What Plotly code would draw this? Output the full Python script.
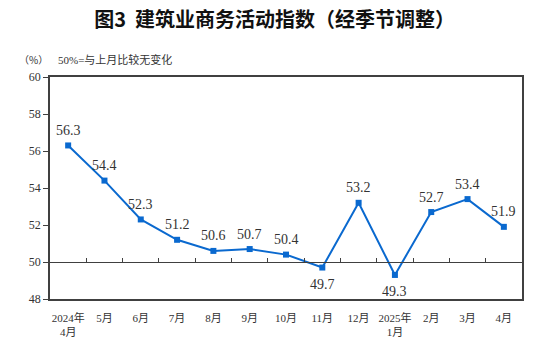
import plotly.graph_objects as go

categories = ["2024年<br>4月", "5月", "6月", "7月", "8月", "9月", "10月", "11月", "12月",
              "2025年<br>1月", "2月", "3月", "4月"]
values = [56.3, 54.4, 52.3, 51.2, 50.6, 50.7, 50.4, 49.7, 53.2, 49.3, 52.7, 53.4, 51.9]
label_side = ["top", "top", "top", "top", "top", "top", "top", "bottom", "top",
              "bottom", "top", "top", "top"]
y_ticks = [48, 50, 52, 54, 56, 58, 60]

title_text = "图3  建筑业商务活动指数（经季节调整）"
unit_text = "（%）"
note_text = "50%=与上月比较无变化"

SERIF = "Liberation Serif, Times New Roman, Noto Sans CJK SC"
CJK = "Noto Sans CJK SC"
LINE_BLUE = "#0a69cf"
TEXT = "#333333"
AXIS = "#404040"

fig = go.Figure()
fig.add_trace(go.Scatter(
    x=categories, y=values, mode="lines+markers",
    line=dict(color=LINE_BLUE, width=2),
    marker=dict(symbol="square", size=6, color=LINE_BLUE),
    hoverinfo="skip", showlegend=False,
))

# data labels
for c, v, s in zip(categories, values, label_side):
    fig.add_annotation(x=c, y=v, text=f"{v:.1f}", showarrow=False,
                       yshift=15 if s == "top" else -17,
                       font=dict(family=SERIF, size=14, color=TEXT))

# boundary ticks on the 50 reference line (second x-axis)
n = len(categories)
fig.add_trace(go.Scatter(x=[0], y=[None], xaxis="x2", yaxis="y",
                         showlegend=False, hoverinfo="skip"))

fig.update_layout(
    width=546, height=353,
    margin=dict(l=50, r=24, t=77, b=54),
    paper_bgcolor="white", plot_bgcolor="white",
    xaxis=dict(type="category", showgrid=False, zeroline=False,
               showline=True, mirror=True, linecolor=AXIS, linewidth=1.5,
               ticks="", tickfont=dict(family=SERIF, size=11, color=TEXT),
               ticklabelstandoff=8,
               range=[-0.5, n - 0.5]),
    xaxis2=dict(overlaying="x", anchor="free", position=(50 - 48) / (60 - 48),
                side="top", range=[-0.5, n - 0.5], showgrid=False, zeroline=False,
                showline=True, linecolor=AXIS, linewidth=1.2,
                ticks="outside", ticklen=4, tickcolor=AXIS, tickwidth=1,
                tickvals=[i + 0.5 for i in range(n - 1)], showticklabels=False),
    yaxis=dict(range=[48, 60], tickvals=y_ticks, showgrid=False, zeroline=False,
               showline=True, mirror=True, linecolor=AXIS, linewidth=1.5,
               ticks="outside", ticklen=5, tickcolor=AXIS,
               tickfont=dict(family=SERIF, size=12, color=TEXT)),
    title=dict(text=title_text, x=0.503, xanchor="center", y=0.943, yanchor="middle",
               font=dict(family=CJK, size=20, color="#111111", weight="bold")),
)

fig.add_annotation(xref="paper", yref="paper", x=-0.07, y=1.08, xanchor="left",
                   yanchor="middle", text=unit_text, showarrow=False,
                   font=dict(family=CJK, size=10, color=TEXT))
fig.add_annotation(xref="paper", yref="paper", x=0.012, y=1.08, xanchor="left",
                   yanchor="middle", text=note_text, showarrow=False,
                   font=dict(family=SERIF, size=11, color=TEXT))

fig.write_html("out.html")
